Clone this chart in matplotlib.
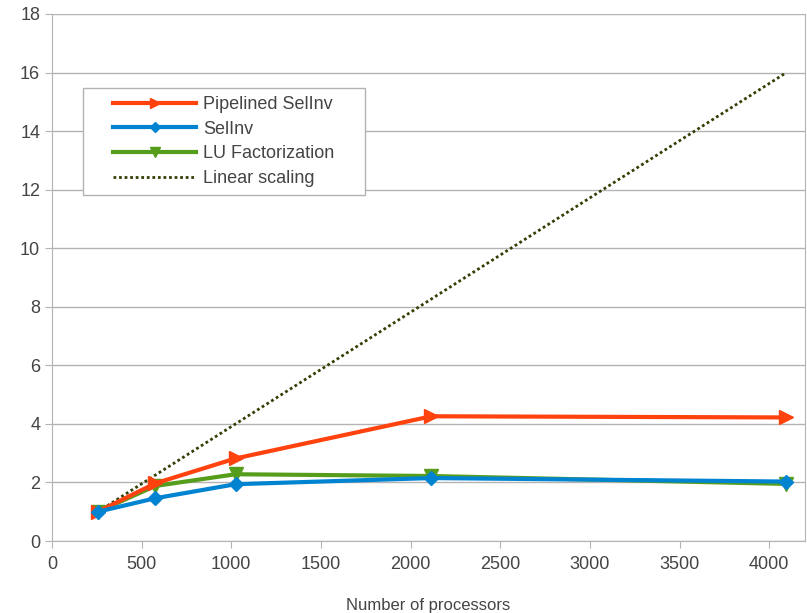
import numpy as np
import matplotlib
matplotlib.use('Agg')
import matplotlib.pyplot as plt
from matplotlib.patches import Rectangle

plt.rcParams['font.family'] = ['Liberation Sans', 'DejaVu Sans']

procs = [256, 576, 1024, 2116, 4096]
pipelined = [1.0, 1.97, 2.82, 4.26, 4.22]
selinv = [1.0, 1.46, 1.94, 2.15, 2.03]
lu_fact = [1.0, 1.88, 2.28, 2.22, 1.95]
linear_x = [256, 4096]
linear_y = [1, 16]

W, H = 807, 613
fig = plt.figure(figsize=(W/100, H/100), dpi=100)
ax = fig.add_axes([52/W, 72/H, 753/W, 527/H])

ax.plot(procs, pipelined, color='#ff420e', lw=3, marker='>', ms=10, label='Pipelined SelInv', zorder=4)
ax.plot(procs, selinv, color='#0084d1', lw=3, marker='D', ms=7, label='SelInv', zorder=4)
ax.plot(procs, lu_fact, color='#579d1c', lw=3, marker='v', ms=10, label='LU Factorization', zorder=3)
ax.plot(linear_x, linear_y, color='#314004', lw=2, ls=(0, (1, 1)), label='Linear scaling', zorder=2)

ax.set_xlim(0, 4200)
ax.set_ylim(0, 18)
ax.set_xticks(range(0, 4001, 500))
ax.set_yticks(range(0, 19, 2))
ax.grid(axis='y', color='#b3b3b3', lw=1)
ax.set_axisbelow(True)
for s in ['top', 'right', 'left', 'bottom']:
    ax.spines[s].set_color('#b3b3b3')
ax.spines['top'].set_visible(False)
ax.tick_params(colors='#b3b3b3', labelcolor='#444444', labelsize=13, length=5, direction='out')
ax.tick_params(axis='x', pad=6)
ax.set_xlabel('Number of processors', fontsize=12, color='#444444', labelpad=18)

leg = ax.legend(loc='upper left', bbox_to_anchor=(105/W, 1 - 88/H), bbox_transform=fig.transFigure,
                fontsize=13, handlelength=4.6, frameon=False, borderpad=0.45,
                labelspacing=0.42, handletextpad=0.4, markerscale=0.75, borderaxespad=0)
for t in leg.get_texts():
    t.set_color('#444444')

# frame drawn by hand so the sides get extra padding
fig.canvas.draw()
bb = leg.get_window_extent()
pad = 22
frame = Rectangle(((bb.x0 - pad)/W, bb.y0/H), (bb.width + 2*pad)/W, bb.height/H,
                  transform=fig.transFigure, facecolor='white', edgecolor='#b3b3b3',
                  lw=1, zorder=4.5, clip_on=False)
ax.add_patch(frame)

fig.savefig('out.png', dpi=100)
